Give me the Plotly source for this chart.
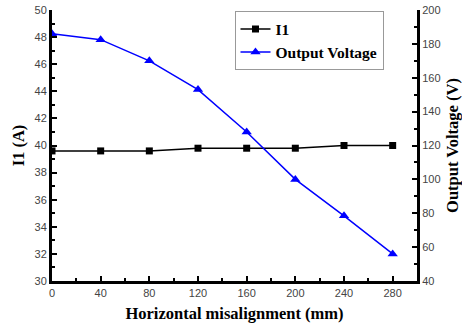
import plotly.graph_objects as go

# Horizontal misalignment (mm)
misalignment = [0, 40, 80, 120, 160, 200, 240, 280]
# Current I1 (A)
i1 = [39.6, 39.6, 39.6, 39.8, 39.8, 39.8, 40.0, 40.0]
# Output voltage (V)
voltage = [186, 182.5, 170, 153, 128, 100, 78.5, 56]

serif_bold = dict(family="Liberation Serif", size=16.5, color="black")
tick_font = dict(family="Liberation Sans", size=11, color="#444444")

fig = go.Figure()
fig.add_trace(go.Scatter(
    x=misalignment, y=i1, name="<b>I1</b>", mode="lines+markers",
    line=dict(color="black", width=1.5),
    marker=dict(symbol="square", size=7, color="black"),
    yaxis="y",
))
fig.add_trace(go.Scatter(
    x=misalignment, y=voltage, name="<b>Output Voltage</b>", mode="lines+markers",
    line=dict(color="#0000ff", width=1.5),
    marker=dict(symbol="triangle-up", size=9, color="#0000ff"),
    yaxis="y2",
))

axis_common = dict(
    showline=True, linecolor="black", linewidth=3,
    ticks="inside", ticklen=5, tickwidth=2, tickcolor="black",
    showgrid=False, zeroline=False, tickfont=tick_font,
    automargin=False,
)

fig.update_layout(
    width=462, height=328,
    margin=dict(l=52, r=45, t=10, b=47),
    paper_bgcolor="white", plot_bgcolor="white",
    showlegend=True,
    legend=dict(
        x=0.5, y=0.995, xanchor="left", yanchor="top",
        bordercolor="#999999", borderwidth=1, bgcolor="white",
        font=dict(family="Liberation Serif", size=15.5, color="black"),
        tracegroupgap=0, itemwidth=30,
    ),
    xaxis=dict(
        range=[0, 300], tickvals=[0, 40, 80, 120, 160, 200, 240, 280],
        minor=dict(ticks="inside", ticklen=3, tickwidth=2, dtick=20, tick0=0, tickcolor="black"),
        title=dict(text="<b>Horizontal misalignment (mm)</b>", font=serif_bold, standoff=10),
        **axis_common,
    ),
    yaxis=dict(
        range=[30, 50], dtick=2,
        minor=dict(ticks="inside", ticklen=3, tickwidth=2, dtick=1, tickcolor="black"),
        title=dict(text="<b>I1 (A)</b>", font=serif_bold, standoff=6),
        **axis_common,
    ),
    yaxis2=dict(
        range=[40, 200], dtick=20, overlaying="y", side="right",
        minor=dict(ticks="inside", ticklen=3, tickwidth=2, dtick=10, tickcolor="black"),
        title=dict(text="<b>Output Voltage (V)</b>", font=serif_bold, standoff=10),
        **axis_common,
    ),
)

fig.write_html("out.html")
